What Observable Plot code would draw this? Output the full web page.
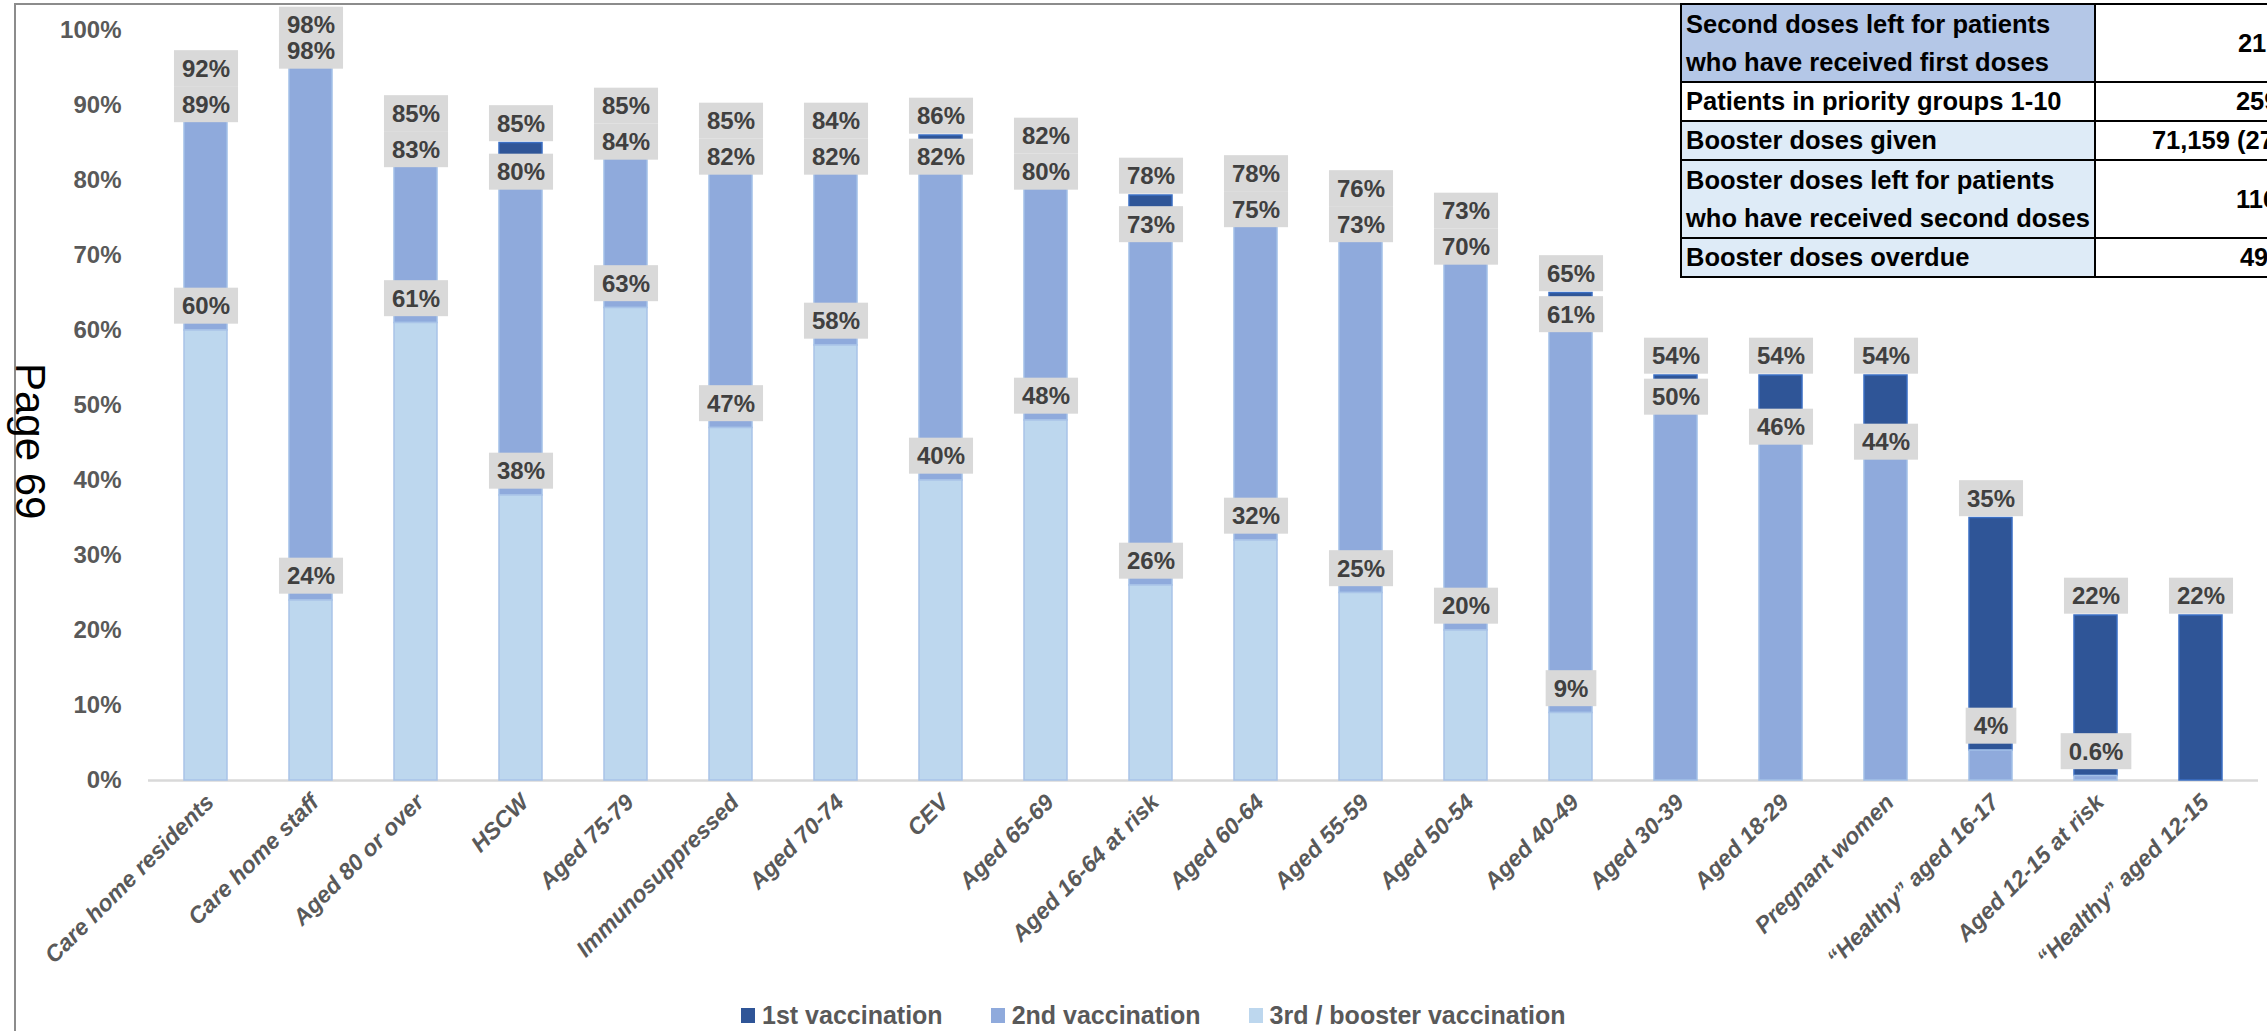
<!DOCTYPE html>
<html>
<head>
<meta charset="utf-8">
<script src="https://cdn.jsdelivr.net/npm/d3@7"></script>
<script src="https://cdn.jsdelivr.net/npm/@observablehq/plot@0.6"></script>
<style>
html, body { margin: 0; padding: 0; background: #fff; }
#page { position: relative; width: 2267px; height: 1031px; overflow: hidden; background: #fff; font-family: "Liberation Sans", Arial, sans-serif; }
#chart { position: absolute; left: 0; top: 0; }
#frameL { position: absolute; left: 14px; top: 3px; width: 1.5px; height: 1040px; background: #8c8c8c; }
#frameT { position: absolute; left: 14px; top: 3px; height: 1.5px; width: 1670px; background: #8c8c8c; }
#pagelabel { position: absolute; left: 51px; top: 363px; transform: rotate(90deg); transform-origin: 0 0; font-size: 42px; line-height: 1; white-space: nowrap; color: #000; font-family: "Liberation Sans", Arial, sans-serif; }
#legend { position: absolute; left: 741px; top: 999px; }
#legend > div { font: bold 25px "Liberation Sans", Arial, sans-serif !important; color: #595959 !important; }
#legend span { margin-right: 48px !important; }
#legend svg { margin-right: 7px !important; }
#table { position: absolute; left: 1680px; top: 3px; border-collapse: collapse; font: bold 25.5px "Liberation Sans", Arial, sans-serif; color: #000; }
#table td { border: 2px solid #000; padding: 0 4px; line-height: 37px; white-space: nowrap; }
#table tr.two td { line-height: 38px; }
#table td.lab { width: 400px; }
#table td.val { width: 160px; background: #fff; }
</style>
</head>
<body>
<div id="page">
  <div id="chart"></div>
  <div id="frameL"></div>
  <div id="frameT"></div>
  <div id="pagelabel">Page 69</div>
  <table id="table">
    <tr class="two"><td class="lab" style="background:#B4C7E7">Second doses left for patients<br>who have received first doses</td><td class="val"><span style="padding-left:138px">21</span></td></tr>
    <tr><td class="lab" style="background:#FFFFFF">Patients in priority groups 1-10</td><td class="val"><span style="padding-left:136px">259</span></td></tr>
    <tr><td class="lab" style="background:#DEEBF7">Booster doses given</td><td class="val"><span style="padding-left:52px">71,159 (27</span></td></tr>
    <tr class="two"><td class="lab" style="background:#DEEBF7">Booster doses left for patients<br>who have received second doses</td><td class="val"><span style="padding-left:136px">116</span></td></tr>
    <tr><td class="lab" style="background:#DEEBF7">Booster doses overdue</td><td class="val"><span style="padding-left:140px">49</span></td></tr>
  </table>
  <div id="legend"></div>
</div>
<script>
// ---- data ----
const categories = [
  "Care home residents", "Care home staff", "Aged 80 or over", "HSCW", "Aged 75-79",
  "Immunosuppressed", "Aged 70-74", "CEV", "Aged 65-69", "Aged 16-64 at risk",
  "Aged 60-64", "Aged 55-59", "Aged 50-54", "Aged 40-49", "Aged 30-39",
  "Aged 18-29", "Pregnant women", "\u201cHealthy\u201d aged 16-17", "Aged 12-15 at risk", "\u201cHealthy\u201d aged 12-15"
];
// cumulative coverage (share of group)
const firstDose   = [0.92, 0.98, 0.85, 0.85, 0.85, 0.85, 0.84, 0.86, 0.82, 0.78, 0.78, 0.76, 0.73, 0.65, 0.54, 0.54, 0.54, 0.35, 0.22, 0.22];
const secondDose  = [0.89, 0.98, 0.83, 0.80, 0.84, 0.82, 0.82, 0.82, 0.80, 0.73, 0.75, 0.73, 0.70, 0.61, 0.50, 0.46, 0.44, 0.04, 0.006, 0];
const boosterDose = [0.60, 0.24, 0.61, 0.38, 0.63, 0.47, 0.58, 0.40, 0.48, 0.26, 0.32, 0.25, 0.20, 0.09, 0, 0, 0, 0, 0, 0];
const seriesNames = ["1st vaccination", "2nd vaccination", "3rd / booster vaccination"];
const yTicks = [0, 0.1, 0.2, 0.3, 0.4, 0.5, 0.6, 0.7, 0.8, 0.9, 1.0];

// ---- styles ----
const seriesColors = ["#2F5597", "#8FAADC", "#BDD7EE"];
const edgeColors = ["#3B6FC4", "#A2C0E8", "#A9C3E8"];
const W = 2267, H = 1031, mTop = 30, mBottom = 251, mLeft = 148, mRight = 9;
const PX = 1 / (H - mTop - mBottom); // one pixel in y units

// segments (booster bottom, then 2nd, then 1st)
const segments = [];
categories.forEach((c, i) => {
  const b = boosterDose[i], s = secondDose[i], f = firstDose[i];
  segments.push({cat: c, series: seriesNames[2], y1: 0, y2: b});
  segments.push({cat: c, series: seriesNames[1], y1: b, y2: s});
  segments.push({cat: c, series: seriesNames[0], y1: s, y2: f});
});
const segs = segments.filter(d => d.y2 - d.y1 > 0);

// data labels placed beside the cumulative levels
const fmt = v => v < 0.01 ? d3.format(".1%")(v) : d3.format(".0%")(v);
const labels = [];
categories.forEach((c, i) => {
  const f = firstDose[i], s = secondDose[i], b = boosterDose[i];
  let ys = null, yf = null;
  if (b > 0) labels.push({cat: c, v: b, ly: b + 24 * PX});
  if (s > 0) ys = (b === 0 && s < 0.1) ? s + 24 * PX : s + 8 * PX;
  if (f > 0) {
    yf = f + 19 * PX;
    if (ys != null) yf = Math.max(yf, ys + 36 * PX);
    const cap = 1 + 5 * PX;
    if (yf > cap) { yf = cap; if (ys != null) ys = Math.min(ys, yf - 26 * PX); }
  }
  if (ys != null) labels.push({cat: c, v: s, ly: ys});
  if (yf != null) labels.push({cat: c, v: f, ly: yf});
});

const marks = [
  Plot.ruleY([0], {stroke: "#D9D9D9", strokeWidth: 2.5})
];
seriesNames.forEach((name, k) => {
  marks.push(Plot.barY(segs.filter(d => d.series === name), {
    x: "cat", y1: "y1", y2: "y2", fill: "series", stroke: edgeColors[k], strokeWidth: 1.5
  }));
});
marks.push(
  Plot.axisY({ticks: yTicks, tickFormat: d3.format(".0%"), tickSize: 0, tickPadding: 27, label: null,
    fontSize: 24, fontWeight: "bold", color: "#595959"}),
  Plot.axisX({tickRotate: -45, tickSize: 0, tickPadding: 18, dx: 4, label: null,
    fontSize: 23, fontWeight: "bold", fontStyle: "italic", color: "#595959"}),
  Plot.text(labels, {x: "cat", y: "ly", text: d => fmt(d.v), fontSize: 24, fontWeight: "bold",
    fill: "#404040", ariaLabel: "data-label"})
);

const plot = Plot.plot({
  width: W, height: H,
  marginTop: mTop, marginBottom: mBottom, marginLeft: mLeft, marginRight: mRight,
  style: {fontFamily: '"Liberation Sans", Arial, sans-serif', background: "transparent", overflow: "visible"},
  x: {domain: categories, paddingInner: 0.59, paddingOuter: 0.3},
  y: {domain: [0, 1]},
  color: {domain: seriesNames, range: seriesColors},
  marks
});
document.getElementById("chart").appendChild(plot);

// grey boxes behind the data labels
const ns = "http://www.w3.org/2000/svg";
const svgEl = plot.tagName.toLowerCase() === "svg" ? plot : plot.querySelector("svg");
let tg = svgEl.querySelector('g[aria-label="data-label"]');
if (!tg) {
  const cands = Array.from(svgEl.querySelectorAll('g[aria-label="text"]'));
  tg = cands[cands.length - 1];
}
if (tg) {
  const bg = document.createElementNS(ns, "g");
  if (tg.getAttribute("transform")) bg.setAttribute("transform", tg.getAttribute("transform"));
  tg.parentNode.insertBefore(bg, tg);
  for (const t of tg.querySelectorAll("text")) {
    const bb = t.getBBox();
    const cy = bb.y + bb.height / 2;
    const r = document.createElementNS(ns, "rect");
    r.setAttribute("x", bb.x - 8);
    r.setAttribute("width", bb.width + 16);
    r.setAttribute("y", cy - 18);
    r.setAttribute("height", 36);
    r.setAttribute("fill", "#D9D9D9");
    if (t.getAttribute("transform")) r.setAttribute("transform", t.getAttribute("transform"));
    bg.appendChild(r);
  }
}

// legend from the plot's colour scale
const leg = plot.legend("color", {swatchWidth: 14, swatchHeight: 15});
document.getElementById("legend").appendChild(leg);
</script>
</body>
</html>
